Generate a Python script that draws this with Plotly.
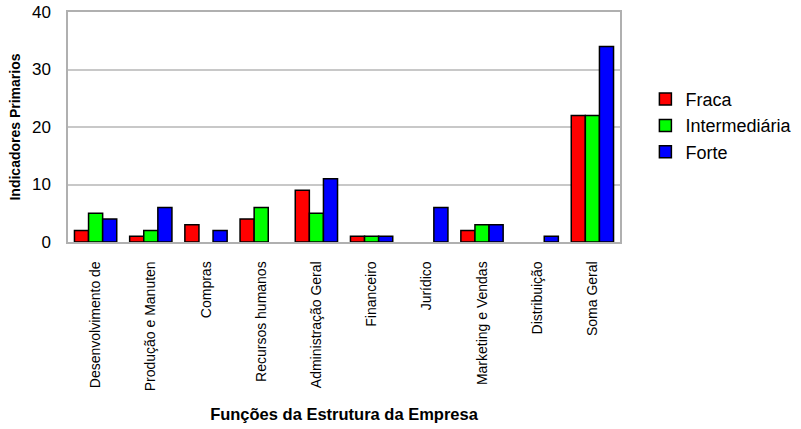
import plotly.graph_objects as go

categories = ["Desenvolvimento de", "Produção e Manuten", "Compras", "Recursos humanos",
              "Administração Geral", "Financeiro", "Jurídico", "Marketing e Vendas",
              "Distribuição", "Soma Geral"]
fraca = [2, 1, 3, 4, 9, 1, 0, 2, 0, 22]
intermediaria = [5, 2, 0, 6, 5, 1, 0, 3, 0, 22]
forte = [4, 6, 2, 0, 11, 1, 6, 3, 1, 34]

series = [("Fraca", fraca, "#ff0000"), ("Intermediária", intermediaria, "#00ff00"), ("Forte", forte, "#0000ff")]

fig = go.Figure()
for name, vals, col in series:
    fig.add_trace(go.Bar(x=categories, y=vals, name=name, legendgroup=name,
                         marker=dict(color=col,
                                     line=dict(color="black", width=[1.5 if v else 0 for v in vals]))))

fig.update_layout(
    width=801, height=429,
    margin=dict(l=68, r=181, t=12, b=187, autoexpand=False),
    paper_bgcolor="white", plot_bgcolor="white",
    barmode="group", bargap=0.234, bargroupgap=0,
    font=dict(family="Liberation Sans, Arial", color="black"),
    legend=dict(x=1.046, y=0.505, xanchor="left", yanchor="middle",
                font=dict(size=18), tracegroupgap=0, itemwidth=30),
    showlegend=True,
)
fig.update_xaxes(tickangle=-90, tickfont=dict(size=14), showline=True, linecolor="#b0b0b0",
                 linewidth=1.5, mirror=True, showgrid=False, automargin=False,
                 ticks="", ticklabelstandoff=12,
                 title=dict(text="<b>Funções da Estrutura da Empresa</b>", font=dict(size=16.5), standoff=18))
fig.update_yaxes(range=[0, 40], dtick=10, tickfont=dict(size=17), showline=True, linecolor="#b0b0b0",
                 linewidth=1.5, mirror=True, showgrid=True, gridcolor="#c8c8c8", gridwidth=1.5,
                 ticks="", ticklabelstandoff=12, zeroline=False, automargin=False,
                 title=dict(text="<b>Indicadores Primarios</b>", font=dict(size=14), standoff=8))

fig.write_html("out.html", config={"displayModeBar": False},
               post_script="document.body.style.margin='0';")
